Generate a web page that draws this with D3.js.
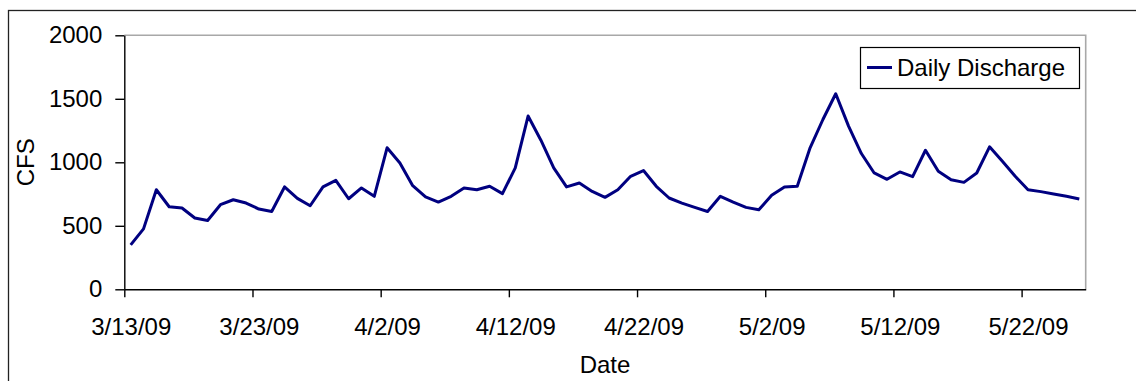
<!DOCTYPE html>
<html>
<head>
<meta charset="utf-8">
<script src="https://cdn.jsdelivr.net/npm/d3@7/dist/d3.min.js"></script>
<style>
  html, body { margin: 0; padding: 0; background: #fff; }
  text { font-family: "Liberation Sans", Arial, sans-serif; fill: #000; }
</style>
</head>
<body>
<svg id="chart" width="1136" height="381"></svg>
<script>
// ---- data ----
const startDate = "2009-03-13";
const dischargeValues = [
  350, 476, 784, 650, 640, 561, 542, 666, 705, 679,
  632, 613, 806, 716, 658, 806, 858, 713, 798, 732,
  1114, 995, 816, 727, 687, 732, 798, 784, 811, 753,
  956, 1364, 1174, 956, 806, 837, 771, 724, 784, 890,
  935, 811, 719, 679, 645, 613, 732, 687, 645, 626,
  740, 806, 811, 1114, 1337, 1540, 1285, 1069, 916, 866,
  924, 887, 1095, 929, 863, 842, 916, 1122, 1008, 890,
  784, 769, 751, 732, 711
];
const xTickLabels = ["3/13/09", "3/23/09", "4/2/09", "4/12/09", "4/22/09", "5/2/09", "5/12/09", "5/22/09"];
const yTickValues = [0, 500, 1000, 1500, 2000];
const seriesName = "Daily Discharge";
const xTitle = "Date";
const yTitle = "CFS";

// ---- build ----
(function () {
const parse = d3.utcParse("%Y-%m-%d");
const start = parse(startDate);
const data = dischargeValues.map((v, i) => ({ date: d3.utcDay.offset(start, i), value: v }));
const xTickDates = xTickLabels.map(s => d3.utcParse("%m/%d/%y")(s));

const pL = 124.3, pR = 1085.7, pT = 35.3, pB = 289.3;
const x = d3.scaleUtc()
  .domain([start, d3.utcDay.offset(start, dischargeValues.length)])
  .range([pL, pR]);
const y = d3.scaleLinear().domain([0, 2000]).range([pB, pT]);
const halfDay = x(d3.utcHour.offset(start, 12)) - x(start);

const svg = d3.select("#chart");
svg.append("rect").attr("width", 1136).attr("height", 381).attr("fill", "#fff");

// outer chart border
svg.append("rect")
  .attr("x", 8.5).attr("y", 10.5).attr("width", 1150).attr("height", 420)
  .attr("fill", "none").attr("stroke", "#222").attr("stroke-width", 1.3);

// plot area border (top & right, gray)
svg.append("path")
  .attr("d", `M${pL},${pT}H${pR}V${pB}`)
  .attr("fill", "none").attr("stroke", "#a8a8a8").attr("stroke-width", 1.6);

// y axis
const yAxis = svg.append("g")
  .attr("transform", `translate(${pL},0)`)
  .call(d3.axisLeft(y).tickValues(yTickValues).tickSize(9).tickSizeOuter(0).tickPadding(13).tickFormat(d3.format("d")));
yAxis.selectAll("text").style("font-size", "24px");

// x axis
const xAxis = svg.append("g")
  .attr("transform", `translate(0,${pB})`)
  .call(d3.axisBottom(x).tickValues(xTickDates).tickSize(8).tickSizeOuter(0).tickPadding(20.5)
    .tickFormat((d, i) => xTickLabels[i]));
xAxis.selectAll("text").style("font-size", "24px").attr("x", halfDay);

svg.selectAll(".domain, .tick line").attr("stroke", "#000").attr("stroke-width", 1.4);

// line
const line = d3.line()
  .x(d => x(d.date) + halfDay)
  .y(d => y(d.value));
svg.append("path")
  .datum(data)
  .attr("d", line)
  .attr("fill", "none")
  .attr("stroke", "#000080")
  .attr("stroke-width", 3)
  .attr("stroke-linejoin", "round");

// titles
svg.append("text")
  .attr("x", (pL + pR) / 2).attr("y", 372.5)
  .attr("text-anchor", "middle").style("font-size", "24px")
  .text(xTitle);
svg.append("text")
  .attr("transform", `translate(34,${(pT + pB) / 2}) rotate(-90)`)
  .attr("text-anchor", "middle").style("font-size", "24px")
  .text(yTitle);

// legend
const lg = svg.append("g");
lg.append("rect")
  .attr("x", 860.5).attr("y", 47.5).attr("width", 219).attr("height", 41)
  .attr("fill", "#fff").attr("stroke", "#000").attr("stroke-width", 1.2);
lg.append("line")
  .attr("x1", 867).attr("x2", 892).attr("y1", 67.5).attr("y2", 67.5)
  .attr("stroke", "#000080").attr("stroke-width", 3);
lg.append("text")
  .attr("x", 897).attr("y", 76).style("font-size", "24px")
  .text(seriesName);
})();
</script>
</body>
</html>
